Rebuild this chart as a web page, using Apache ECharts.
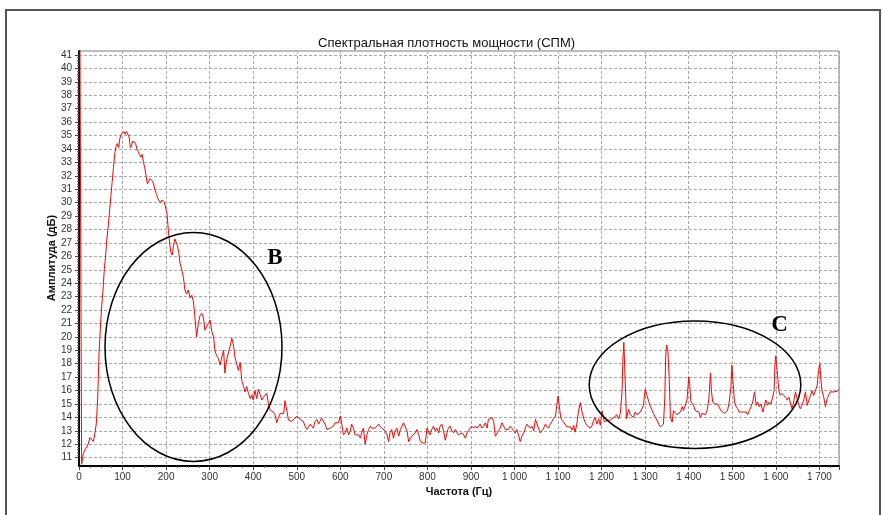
<!DOCTYPE html>
<html><head><meta charset="utf-8">
<script src="https://cdn.jsdelivr.net/npm/echarts@6/dist/echarts.min.js"></script>
<style>html,body{margin:0;padding:0;background:#fff}#c{width:883px;height:515px}</style>
</head><body><div id="c"></div>
<script>
const chartTitle = 'Спектральная плотность мощности (СПМ)';
const xAxisTitle = 'Частота (Гц)';
const yAxisTitle = 'Амплитуда (дБ)';
const annotationLabels = ['B', 'C'];

// Frequency (Hz) of each spectrum sample
const freqHz = [
0,6,10,14,18,21,25,29,33,37,40,43,46,49,52,55,58,61,64,67,70,73,76,79,82,85,88,91,94,97,
100,103,106,109,112,115,118,121,124,127,130,133,136,139,142,145,148,151,154,157,160,163,166,169,172,175,178,181,184,187,
190,193,196,199,202,205,208,211,214,217,220,223,226,229,232,236,240,243,247,251,255,259,263,266,270,274,278,282,286,289,
293,297,301,305,309,312,316,320,324,328,332,335,339,343,347,351,355,358,362,366,370,374,378,381,385,389,393,397,400,404,
408,412,416,420,423,427,431,435,439,443,446,450,454,458,462,466,470,473,477,481,485,488,492,496,500,
504,508,512,515,519,523,527,531,535,538,542,546,550,554,557,561,565,569,573,577,580,584,588,592,596,600,603,607,611,615,
619,623,626,630,634,638,642,646,649,653,657,661,665,669,672,676,680,684,688,691,695,699,703,707,711,714,718,722,726,730,
734,738,741,745,749,753,757,760,764,768,772,776,780,783,787,791,795,799,803,806,810,814,818,822,826,829,833,837,841,845,
848,852,856,860,864,868,871,875,879,883,887,891,894,898,902,906,910,914,917,921,925,929,933,937,940,944,948,952,956,960,
963,967,971,975,979,983,986,990,994,998,1002,1005,1009,1013,1017,1021,1025,1028,1032,1036,1040,1044,1048,1051,1055,1059,1063,1067,1071,1074,
1078,1082,1086,1090,1094,1097,1100,1103,1106,1109,1113,
1116,1120,1124,1128,1132,1136,1139,1143,1147,1151,1155,1159,1162,1166,1170,1174,1178,1182,1185,1189,1193,1197,1201,1205,1208,1212,1216,1220,1224,1228,
1231,1235,1239,1243,1247,1249,1251,1254,1257,1259,1262,1266,1270,1273,1277,1281,1285,1289,1293,1296,1300,1304,1308,1312,1316,1319,1323,1327,1331,1335,
1339,1342,1345,1347,1349,1352,1355,1358,1362,1365,1369,1373,1377,1381,1385,1388,1392,1396,1400,1402,1405,1409,1412,1415,1419,1423,1427,
1430,1434,1438,1442,1446,1450,1452,1455,1459,1463,1466,1470,1474,1478,1482,1486,1489,1493,1497,1499,1502,1505,1509,1512,1516,1520,1524,1528,1532,1535,
1539,1543,1547,1551,1555,1558,1562,1566,1570,1574,1577,1581,1585,1589,1593,1596,1598,1600,1603,1607,1610,1614,1618,1622,1626,1630,1633,1637,1641,1645,
1649,1653,1656,1660,1664,1668,1672,1676,1680,1683,1687,1691,1695,1698,1701,1703,1706,1710,1714,1718,1721,1725,1729,1733,1737,1741,1745
];

// Amplitude (dB) of each spectrum sample
const ampDb = [
60,10.5,11.3,11.6,11.8,12.0,12.5,12.4,12.2,12.9,13.6,15.5,18.8,20.6,22.3,23.4,25.0,26.0,27.3,28.2,29.3,30.4,31.5,32.6,33.6,34.2,34.4,34.1,34.8,35.1,
35.2,35.3,35.1,35.3,35.4,34.9,34.1,34.3,34.6,34.6,34.4,34.0,33.8,33.6,33.4,33.6,33.0,32.6,32.0,31.4,31.6,31.8,31.8,31.6,31.3,30.9,30.6,30.3,30.2,30.0,
30.2,30.1,30.0,29.9,29.2,28.0,27.0,26.3,26.1,26.8,27.3,27.2,26.8,26.3,25.5,25.0,24.4,23.5,23.2,23.5,22.9,23.1,22.6,21.5,20.0,21.0,21.6,21.75,21.4,20.5,
20.4,21.0,21.25,20.4,20.0,19.0,18.6,18.4,17.9,18.5,19.0,17.3,18.3,18.8,19.3,19.9,19.3,18.5,18.0,17.5,18.1,16.7,16.3,15.9,16.3,15.8,15.4,15.7,15.3,16.0,
15.4,16.1,15.7,15.3,15.5,15.4,15.8,15.0,14.55,14.5,14.4,14.2,13.6,14.0,14.3,14.2,14.3,15.25,14.55,13.8,13.9,13.7,13.7,13.95,14.1,
14.2,13.85,13.95,13.7,13.35,13.1,13.0,13.5,13.6,13.2,13.7,13.85,13.5,13.6,13.95,14.05,13.5,13.1,13.0,13.2,13.1,13.35,13.6,13.5,13.6,14.1,13.6,12.7,12.85,13.2,
12.7,13.0,13.5,13.2,12.7,12.6,12.7,12.45,12.85,13.2,12.0,12.7,13.1,13.35,13.2,13.2,13.2,13.35,13.5,13.35,13.2,13.1,13.0,12.7,12.2,12.85,13.1,12.45,13.0,13.2,
12.6,13.1,13.2,13.6,13.7,13.0,12.2,12.1,12.6,12.7,12.85,13.1,12.7,12.3,12.1,12.0,12.1,13.2,13.1,12.7,13.1,13.35,13.0,13.2,12.85,13.35,13.5,13.0,12.3,12.85,
13.2,13.35,13.0,12.85,13.1,13.2,12.7,12.6,12.85,12.7,12.45,12.85,13.0,13.2,13.35,13.2,13.35,13.2,13.1,13.5,13.2,13.35,13.6,13.2,13.85,13.95,14.0,13.7,12.6,12.7,
13.0,13.2,13.6,13.5,13.1,13.0,13.1,13.35,13.2,13.0,12.85,13.1,12.7,12.2,12.6,12.85,13.2,13.5,13.6,13.2,13.35,13.0,13.85,13.95,13.2,12.85,13.0,13.2,13.5,13.35,
13.2,13.5,13.7,13.95,14.1,14.9,15.6,14.8,14.0,13.8,13.8,
13.5,13.3,13.2,13.3,13.05,13.4,12.9,13.5,14.5,15.1,14.4,13.9,13.65,13.4,13.3,13.2,13.4,13.8,14.0,13.5,13.9,13.4,14.5,13.8,13.65,13.8,13.75,13.8,13.8,14.0,
13.9,14.2,13.9,14.3,16.0,18.5,19.6,16.8,13.9,13.8,14.6,14.2,14.3,14.0,14.4,14.2,14.3,14.4,14.5,14.9,16.1,15.65,15.2,14.8,14.5,14.3,14.0,13.8,13.5,13.3,
13.2,13.5,15.5,18.5,19.4,19.0,17.0,14.0,13.65,14.5,14.4,14.2,14.3,14.4,14.8,14.5,14.4,15.3,17.0,16.5,15.15,15.0,14.8,14.5,14.4,14.4,14.0,
14.3,14.3,14.2,14.5,15.3,17.3,16.0,15.15,15.0,14.9,15.0,14.9,14.5,14.4,14.3,14.2,14.5,15.15,16.3,17.9,16.5,15.15,14.8,14.65,14.4,14.3,14.4,14.3,14.4,14.2,
14.5,14.8,15.15,15.9,14.9,15.15,14.8,15.0,14.4,14.9,15.3,14.9,15.15,15.0,14.9,16.0,18.0,18.6,17.5,16.0,15.65,15.8,15.65,15.5,15.3,15.5,15.15,14.65,15.15,15.9,
15.4,14.9,14.65,14.9,15.3,15.9,14.9,15.3,15.65,16.0,15.65,16.0,16.4,17.5,18.0,17.0,16.0,15.5,14.8,15.4,15.65,15.9,16.0,15.9,16.0,15.95,16.1
];

const seriesData = freqHz.map((f, i) => [f, ampDb[i]]);
const fmtThousands = v => String(v).replace(/\B(?=(\d{3})+(?!\d))/g, ' ');

const chart = echarts.init(document.getElementById('c'), null, {renderer: 'canvas'});
const labelFont = {fontFamily: 'Liberation Sans', fontSize: 10, color: '#333'};
chart.setOption({
  animation: false,
  backgroundColor: '#fff',
  title: {
    text: chartTitle, left: 313, top: 32,
    textStyle: {fontFamily: 'Liberation Sans', fontSize: 13, fontWeight: 'normal', color: '#111'}
  },
  grid: [
    {left: 79, top: 51, width: 760, height: 415, show: true, borderColor: '#7a7a7a', borderWidth: 1, backgroundColor: 'transparent'},
    {left: 79, top: 55, width: 760, height: 402.7, show: false}
  ],
  xAxis: [
    {
      gridIndex: 0, type: 'value', min: 0, max: 1745, interval: 100,
      axisLine: {show: true, onZero: false, lineStyle: {color: '#000', width: 2}},
      axisTick: {show: true, length: 4, lineStyle: {color: '#444'}},
      minorTick: {show: true, splitNumber: 4, length: 2, lineStyle: {color: '#666'}},
      axisLabel: Object.assign({margin: 6, formatter: v => (v % 100 === 0 ? fmtThousands(v) : '')}, labelFont),
      splitLine: {show: true, lineStyle: {color: '#a8a8a8', type: [3, 2], width: 1}},
      name: xAxisTitle, nameLocation: 'middle', nameGap: 18,
      nameTextStyle: {fontFamily: 'Liberation Sans', fontSize: 11, fontWeight: 'bold', color: '#111'}
    },
    {gridIndex: 1, type: 'value', min: 0, max: 1745, show: false}
  ],
  yAxis: [
    {
      gridIndex: 0, type: 'value', min: 10.38, max: 41.3,
      axisLine: {show: true, onZero: false, lineStyle: {color: '#000', width: 2}},
      axisTick: {show: false}, axisLabel: {show: false}, splitLine: {show: false}
    },
    {
      gridIndex: 1, type: 'value', min: 11, max: 41, interval: 1,
      axisLine: {show: false},
      axisTick: {show: true, length: 4, lineStyle: {color: '#444'}},
      minorTick: {show: true, splitNumber: 5, length: 2, lineStyle: {color: '#666'}},
      axisLabel: Object.assign({margin: 7}, labelFont),
      splitLine: {show: true, lineStyle: {color: '#a8a8a8', type: [3, 2], width: 1}}
    }
  ],
  series: [{
    type: 'line', xAxisIndex: 0, yAxisIndex: 0, data: seriesData,
    showSymbol: false, symbol: 'none', clip: true,
    lineStyle: {color: '#ff0000', width: 1}, z: 5
  }],
  graphic: [
    {type: 'polyline', shape: {points: [[6, 515], [6, 10], [880, 10], [880, 515]]}, style: {stroke: '#555', lineWidth: 2, fill: 'none'}, z: 1},
    {type: 'text', x: 52, y: 258, rotation: Math.PI / 2, style: {text: yAxisTitle, font: 'bold 11px "Liberation Sans"', fill: '#111', align: 'center', verticalAlign: 'middle', textAlign: 'center', textVerticalAlign: 'middle'}, z: 10},
    {type: 'ellipse', shape: {cx: 193.5, cy: 347, rx: 88.5, ry: 114.5}, style: {stroke: '#000', lineWidth: 1.5, fill: 'none'}, z: 10},
    {type: 'ellipse', shape: {cx: 695, cy: 384.7, rx: 105.8, ry: 63.7}, style: {stroke: '#000', lineWidth: 1.5, fill: 'none'}, z: 10},
    {type: 'text', x: 275, y: 258, style: {text: annotationLabels[0], font: 'bold 23px "Liberation Serif"', fill: '#000', align: 'center', verticalAlign: 'middle', textAlign: 'center', textVerticalAlign: 'middle'}, z: 10},
    {type: 'text', x: 779.5, y: 325, style: {text: annotationLabels[1], font: 'bold 23px "Liberation Serif"', fill: '#000', align: 'center', verticalAlign: 'middle', textAlign: 'center', textVerticalAlign: 'middle'}, z: 10}
  ]
});
</script>
</body></html>
